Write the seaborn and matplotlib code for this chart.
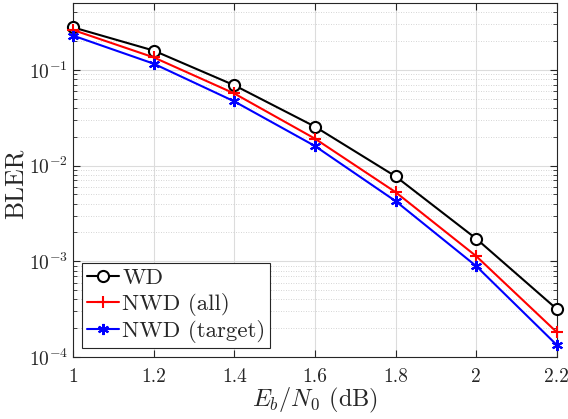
import numpy as np
import pandas as pd
import matplotlib
matplotlib.use("Agg")
import matplotlib.pyplot as plt
import seaborn as sns
from matplotlib.ticker import LogLocator, NullFormatter

ebn0 = [1.0, 1.2, 1.4, 1.6, 1.8, 2.0, 2.2]
bler_wd = [0.278, 0.159, 0.069, 0.0255, 0.0077, 0.00172, 0.000316]
bler_nwd_all = [0.261, 0.135, 0.0566, 0.0191, 0.00527, 0.00113, 0.000181]
bler_nwd_target = [0.228, 0.116, 0.0468, 0.016, 0.00425, 0.00089, 0.000133]
labels = ["WD", "NWD (all)", "NWD (target)"]

sns.set_style("ticks")
plt.rcParams["font.family"] = ["cmr10", "DejaVu Serif"]
plt.rcParams["mathtext.fontset"] = "cm"
plt.rcParams["axes.formatter.use_mathtext"] = True

df = pd.DataFrame({
    "x": ebn0 * 3,
    "y": bler_wd + bler_nwd_all + bler_nwd_target,
    "s": [labels[0]] * 7 + [labels[1]] * 7 + [labels[2]] * 7,
})

fig = plt.figure(figsize=(5.68, 4.19), dpi=100)
ax = fig.add_axes([0.1285, 0.148, 0.852, 0.845])

styles = {
    "WD": dict(color="black", marker="o", mfc="white", mec="black", ms=8, mew=1.5),
    "NWD (all)": dict(color="red", marker="+", mec="red", ms=9, mew=1.5),
    "NWD (target)": dict(color="blue", marker=(6, 2, 0), mec="blue", ms=8, mew=1.5),
}
for name in labels:
    sub = df[df["s"] == name]
    sns.lineplot(data=sub, x="x", y="y", ax=ax, label=name, lw=1.5,
                 clip_on=False, zorder=3, **styles[name])

ax.set_yscale("log")
ax.set_xlim(1, 2.2)
ax.set_ylim(1e-4, 0.5)
ax.set_xticks(ebn0)
ax.set_xticklabels(["1", "1.2", "1.4", "1.6", "1.8", "2", "2.2"])
ax.yaxis.set_major_locator(LogLocator(base=10, numticks=10))
ax.yaxis.set_minor_locator(LogLocator(base=10, subs=np.arange(2, 10), numticks=20))
ax.yaxis.set_minor_formatter(NullFormatter())

ax.grid(True, which="major", color="#dcdcdc", lw=0.8)
ax.grid(True, which="minor", axis="y", color="#c8c8c8", lw=0.6, ls=(0, (1, 2)))
ax.tick_params(which="both", direction="in", top=True, right=True, colors="#262626", labelsize=14)
ax.tick_params(which="major", length=5)
ax.tick_params(which="minor", length=3)
ax.tick_params(axis="x", pad=8)
for sp in ax.spines.values():
    sp.set_color("#262626")
    sp.set_linewidth(0.8)

ax.set_xlabel(r"$E_b/N_0$ (dB)", fontsize=17.5, labelpad=0)
ax.set_ylabel("BLER", fontsize=18.5)
ax.yaxis.set_label_coords(-0.093, 0.49)

leg = ax.legend(loc="lower left", fontsize=16.5, frameon=True, fancybox=False,
                handlelength=1.4, handletextpad=0.15, borderpad=0.2,
                labelspacing=0.2, borderaxespad=0.4)
leg.get_frame().set_edgecolor("#262626")
leg.get_frame().set_linewidth(0.8)
leg.get_frame().set_alpha(1)

fig.savefig("out.png", dpi=100)
